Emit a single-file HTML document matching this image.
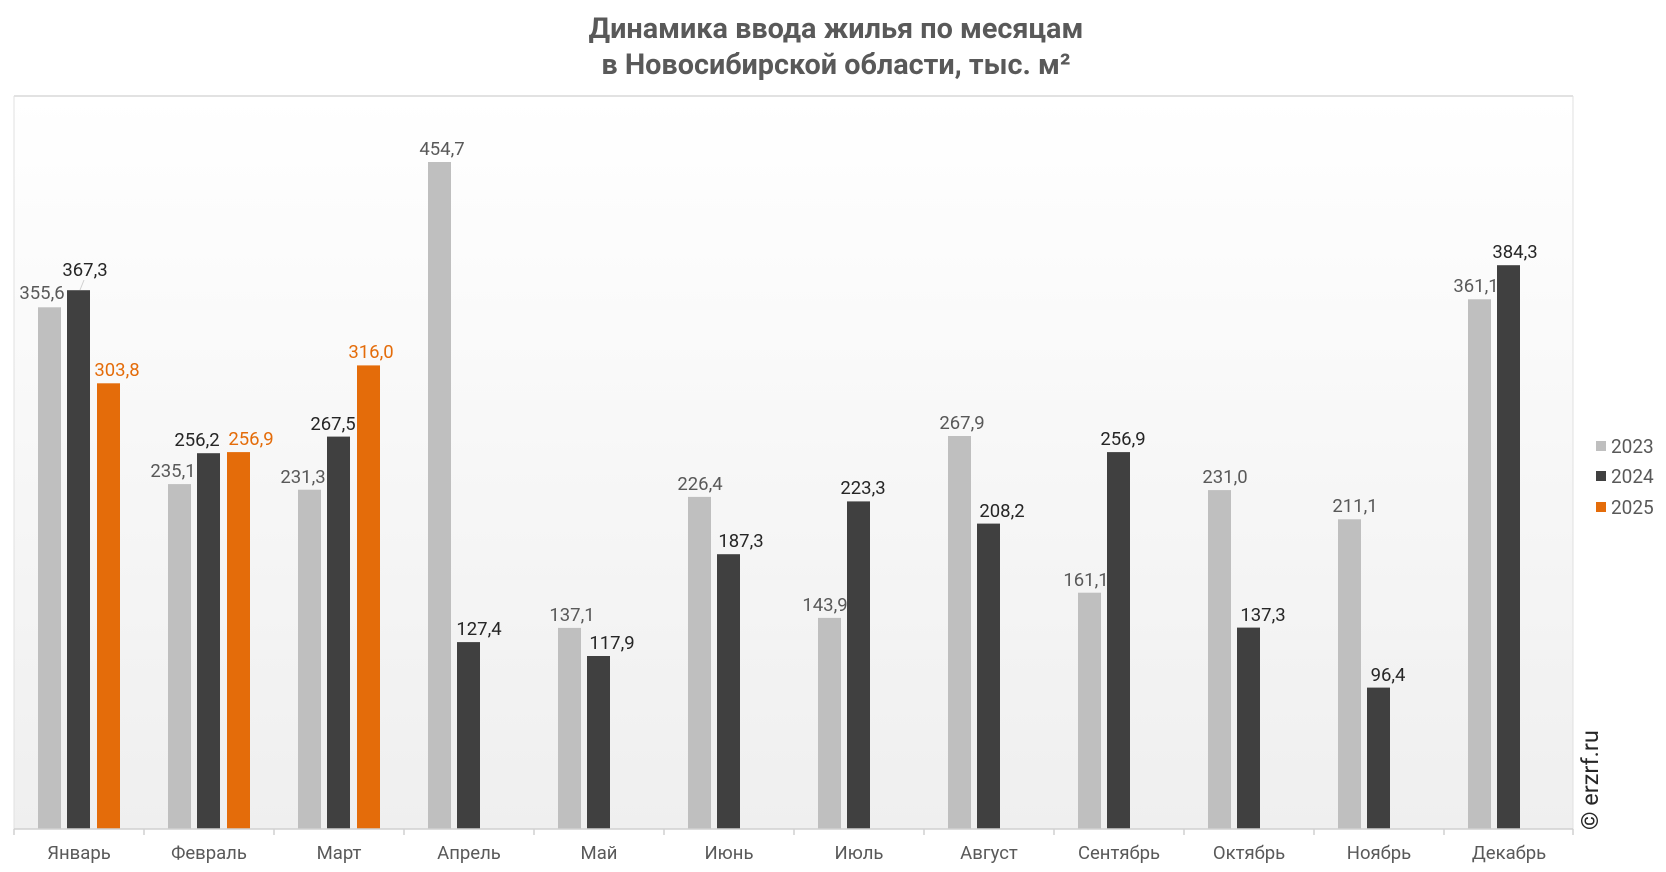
<!DOCTYPE html>
<html><head><meta charset="utf-8"><style>
html,body{margin:0;padding:0;background:#fff;}
svg{display:block;font-family:"Roboto","Liberation Sans",sans-serif;}
.g{fill:#595959;font-size:18.5px;text-anchor:middle}
.d{fill:#262626;font-size:18.5px;text-anchor:middle}
.o{fill:#e46c0a;font-size:18.5px;text-anchor:middle}
.m{fill:#595959;font-size:18.5px;text-anchor:middle}
</style></head><body>
<svg width="1666" height="872" viewBox="0 0 1666 872">
<defs><linearGradient id="bg" x1="0" y1="0" x2="0" y2="1"><stop offset="0" stop-color="#ffffff"/><stop offset="1" stop-color="#efefef"/></linearGradient></defs>
<rect x="14" y="96" width="1559" height="733" fill="url(#bg)"/>
<line x1="14" y1="96" x2="1573" y2="96" stroke="#d9d9d9" stroke-width="1.5"/>
<line x1="14" y1="96" x2="14" y2="829" stroke="#e0e0e0" stroke-width="1"/>
<line x1="1573" y1="96" x2="1573" y2="829" stroke="#e0e0e0" stroke-width="1"/>
<text x="836" y="38" text-anchor="middle" font-weight="bold" font-size="28.8" fill="#595959">Динамика ввода жилья по месяцам</text>
<text x="836" y="74" text-anchor="middle" font-weight="bold" font-size="28.8" fill="#595959">в Новосибирской области, тыс. м²</text>
<g fill="#bfbfbf">
<rect x="38" y="307.3" width="23" height="521.7"/>
<rect x="168" y="484.1" width="23" height="344.9"/>
<rect x="298" y="489.7" width="23" height="339.3"/>
<rect x="428" y="162" width="23" height="667"/>
<rect x="558" y="627.9" width="23" height="201.1"/>
<rect x="688" y="496.9" width="23" height="332.1"/>
<rect x="818" y="617.9" width="23" height="211.1"/>
<rect x="948" y="436" width="23" height="393"/>
<rect x="1078" y="592.7" width="23" height="236.3"/>
<rect x="1208" y="490.1" width="23" height="338.9"/>
<rect x="1338" y="519.3" width="23" height="309.7"/>
<rect x="1468" y="299.3" width="23" height="529.7"/>
</g>
<g fill="#404040">
<rect x="67" y="290.2" width="23" height="538.8"/>
<rect x="197" y="453.2" width="23" height="375.8"/>
<rect x="327" y="436.6" width="23" height="392.4"/>
<rect x="457" y="642.1" width="23" height="186.9"/>
<rect x="587" y="656" width="23" height="173"/>
<rect x="717" y="554.2" width="23" height="274.8"/>
<rect x="847" y="501.4" width="23" height="327.6"/>
<rect x="977" y="523.6" width="23" height="305.4"/>
<rect x="1107" y="452.1" width="23" height="376.9"/>
<rect x="1237" y="627.6" width="23" height="201.4"/>
<rect x="1367" y="687.6" width="23" height="141.4"/>
<rect x="1497" y="265.2" width="23" height="563.8"/>
</g>
<g fill="#e46c0a">
<rect x="97" y="383.3" width="23" height="445.7"/>
<rect x="227" y="452.1" width="23" height="376.9"/>
<rect x="357" y="365.4" width="23" height="463.6"/>
</g>
<line x1="80" y1="290" x2="84" y2="280" stroke="#d0d0d0" stroke-width="1"/>
<line x1="14" y1="829" x2="1573" y2="829" stroke="#d0d0d0" stroke-width="1.5"/>
<g stroke="#d0d0d0" stroke-width="1.5">
<line x1="14" y1="829" x2="14" y2="835"/><line x1="144" y1="829" x2="144" y2="835"/><line x1="274" y1="829" x2="274" y2="835"/><line x1="404" y1="829" x2="404" y2="835"/><line x1="534" y1="829" x2="534" y2="835"/><line x1="664" y1="829" x2="664" y2="835"/><line x1="794" y1="829" x2="794" y2="835"/><line x1="924" y1="829" x2="924" y2="835"/><line x1="1054" y1="829" x2="1054" y2="835"/><line x1="1184" y1="829" x2="1184" y2="835"/><line x1="1314" y1="829" x2="1314" y2="835"/><line x1="1444" y1="829" x2="1444" y2="835"/><line x1="1573" y1="829" x2="1573" y2="835"/>
</g>
<g class="g">
<text class="g" x="42" y="299">355,6</text>
<text class="g" x="173" y="477">235,1</text>
<text class="g" x="303" y="483">231,3</text>
<text class="g" x="442" y="155">454,7</text>
<text class="g" x="572" y="621">137,1</text>
<text class="g" x="700" y="490">226,4</text>
<text class="g" x="825" y="611">143,9</text>
<text class="g" x="962" y="429">267,9</text>
<text class="g" x="1086" y="586">161,1</text>
<text class="g" x="1225" y="483">231,0</text>
<text class="g" x="1355" y="512">211,1</text>
<text class="g" x="1476" y="292">361,1</text>
</g>
<text class="d" x="85" y="276">367,3</text>
<text class="d" x="197" y="446">256,2</text>
<text class="d" x="333" y="430">267,5</text>
<text class="d" x="479" y="635">127,4</text>
<text class="d" x="612" y="649">117,9</text>
<text class="d" x="741" y="547">187,3</text>
<text class="d" x="863" y="494">223,3</text>
<text class="d" x="1002" y="517">208,2</text>
<text class="d" x="1123" y="445">256,9</text>
<text class="d" x="1263" y="621">137,3</text>
<text class="d" x="1388" y="681">96,4</text>
<text class="d" x="1515" y="258">384,3</text>
<text class="o" x="117" y="376">303,8</text>
<text class="o" x="251" y="445">256,9</text>
<text class="o" x="371" y="358">316,0</text>
<g class="m">
<text class="m" x="79" y="859">Январь</text>
<text class="m" x="209" y="859">Февраль</text>
<text class="m" x="339" y="859">Март</text>
<text class="m" x="469" y="859">Апрель</text>
<text class="m" x="599" y="859">Май</text>
<text class="m" x="729" y="859">Июнь</text>
<text class="m" x="859" y="859">Июль</text>
<text class="m" x="989" y="859">Август</text>
<text class="m" x="1119" y="859">Сентябрь</text>
<text class="m" x="1249" y="859">Октябрь</text>
<text class="m" x="1379" y="859">Ноябрь</text>
<text class="m" x="1509" y="859">Декабрь</text>
</g>
<rect x="1596" y="441" width="10" height="10" fill="#bfbfbf"/>
<rect x="1596" y="471" width="10" height="10" fill="#404040"/>
<rect x="1596" y="502" width="10" height="10" fill="#e46c0a"/>
<g font-size="19" fill="#595959">
<text x="1611" y="453">2023</text>
<text x="1611" y="483">2024</text>
<text x="1611" y="514">2025</text>
</g>
<text transform="translate(1598,830) rotate(-90)" font-size="23.5" fill="#262626">© erzrf.ru</text>
</svg>
</body></html>
